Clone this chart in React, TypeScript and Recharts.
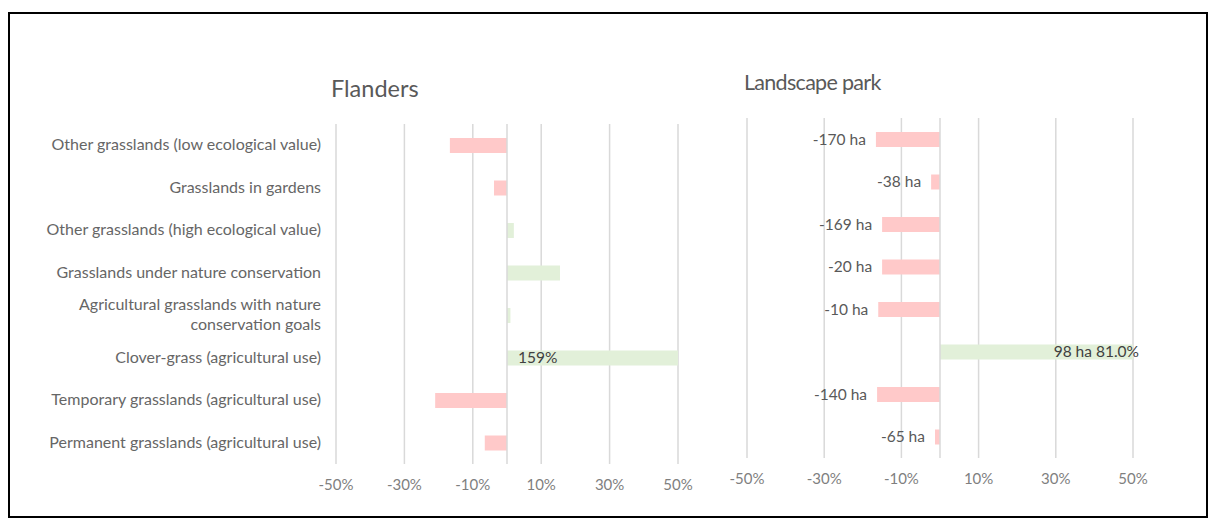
import React from "react";
import {
  Bar,
  BarChart,
  CartesianGrid,
  Cell,
  LabelList,
  ReferenceLine,
  XAxis,
  YAxis,
} from "recharts";

const categories = [
  "Other grasslands (low ecological value)",
  "Grasslands in gardens",
  "Other grasslands (high ecological value)",
  "Grasslands under nature conservation",
  "Agricultural grasslands with nature conservation goals",
  "Clover-grass (agricultural use)",
  "Temporary grasslands (agricultural use)",
  "Permanent grasslands (agricultural use)",
];
const flandersPct = [-16.7, -3.8, 2, 15.5, 1, 159, -21, -6.5];
const flandersLabels = ["", "", "", "", "", "159%", "", ""];
const parkPct = [-16.6, -2.3, -15, -15, -16, 81, -16.3, -1.3];
const parkLabels = [
  "-170 ha",
  "-38 ha",
  "-169 ha",
  "-20 ha",
  "-10 ha",
  "98 ha 81.0%",
  "-140 ha",
  "-65 ha",
];
const xTicks = [-50, -30, -10, 10, 30, 50];

const flandersData = categories.map((name, i) => ({
  name,
  value: flandersPct[i],
  label: flandersLabels[i],
}));
const parkData = categories.map((name, i) => ({
  name,
  value: parkPct[i],
  label: parkLabels[i],
}));

const FONT = "Lato, 'Open Sans', sans-serif";
const GRID = "#d9d9d9";
const RED = "#ffc9c9";
const GREEN = "#e2f0d9";

const wrap = (s: string, max: number) => {
  const words = s.split(" ");
  const lines: string[] = [];
  let cur = "";
  words.forEach((w) => {
    const next = cur ? cur + " " + w : w;
    if (next.length > max && cur) {
      lines.push(cur);
      cur = w;
    } else cur = next;
  });
  if (cur) lines.push(cur);
  return lines;
};

const CategoryTick = (props: any) => {
  const { x, y, payload } = props;
  const lines = wrap(payload.value, 42);
  const start = -((lines.length - 1) * 20) / 2;
  return (
    <text
      x={x}
      y={y}
      textAnchor="end"
      fill="#666666"
      fontSize={16}
      fontFamily={FONT}
    >
      {lines.map((l, i) => (
        <tspan key={i} x={x} dy={i === 0 ? start + 5 : 20}>
          {l}
        </tspan>
      ))}
    </text>
  );
};

const fmtPct = (v: number) => `${v}%`;

// left chart sizes
const L_W = 690;
const L_H = 500;
// right chart sizes
const R_W = 510;
const R_H = 500;
const R_MARGIN = { top: 104, right: 77, bottom: 26, left: 47 };

const FlandersLabel = (props: any) => {
  const { x, y, width, height, value } = props;
  if (!value) return null;
  const left = Math.min(x, x + width);
  return (
    <text
      x={left + 11}
      y={y + height / 2 + 5}
      fill="#404040"
      fontSize={15.5}
      fontFamily={FONT}
    >
      {value}
    </text>
  );
};

const ParkLabel = (props: any) => {
  const { x, y, width, height, value, index } = props;
  const v = parkPct[index];
  const left = Math.min(x, x + width);
  const right = Math.min(Math.max(x, x + width), R_W - R_MARGIN.right);
  const cy = y + height / 2 + 5;
  if (v < 0) {
    return (
      <text
        x={left - 10}
        y={cy}
        textAnchor="end"
        fill="#595959"
        fontSize={15.5}
        fontFamily={FONT}
      >
        {value}
      </text>
    );
  }
  return (
    <text
      x={right + 6}
      y={cy}
      textAnchor="end"
      fill="#404040"
      fontSize={15.5}
      fontFamily={FONT}
    >
      {value}
    </text>
  );
};

const axisTick = { fill: "#7f7f7f", fontSize: 15, fontFamily: FONT };

export default function App() {
  return (
    <div
      style={{
        position: "relative",
        width: 1196,
        height: 502,
        border: "2px solid #000",
        marginTop: 4,
        background: "#fff",
        fontFamily: FONT,
      }}
    >
      <div
        style={{
          position: "absolute",
          left: 321,
          top: 61,
          fontSize: 23.5,
          lineHeight: "26px",
          color: "#595959",
        }}
      >
        Flanders
      </div>
      <div
        style={{
          position: "absolute",
          left: 734,
          top: 55,
          fontSize: 21.5,
          letterSpacing: -0.7,
          lineHeight: "26px",
          color: "#595959",
        }}
      >
        Landscape park
      </div>

      <div style={{ position: "absolute", left: 0, top: 0 }}>
        <BarChart
          width={L_W}
          height={L_H}
          data={flandersData}
          layout="vertical"
          margin={{ top: 110, right: 22, bottom: 20, left: 0 }}
        >
          <CartesianGrid
            horizontal={false}
            stroke={GRID}
            strokeWidth={1.5}
          />
          <XAxis
            type="number"
            domain={[-50, 50]}
            ticks={xTicks}
            allowDataOverflow
            tickFormatter={fmtPct}
            axisLine={false}
            tickLine={false}
            tick={axisTick}
            tickMargin={9}
            height={30}
          />
          <YAxis
            type="category"
            dataKey="name"
            width={326}
            axisLine={false}
            tickLine={false}
            tickMargin={9}
            tick={<CategoryTick />}
            interval={0}
          />
          <ReferenceLine x={0} stroke={GRID} strokeWidth={1.5} />
          <Bar dataKey="value" barSize={15} isAnimationActive={false}>
            {flandersData.map((d, i) => (
              <Cell key={i} fill={d.value < 0 ? RED : GREEN} />
            ))}
            <LabelList dataKey="label" content={<FlandersLabel />} />
          </Bar>
        </BarChart>
      </div>

      <div style={{ position: "absolute", left: 690, top: 0 }}>
        <BarChart
          width={R_W}
          height={R_H}
          data={parkData}
          layout="vertical"
          margin={R_MARGIN}
        >
          <CartesianGrid
            horizontal={false}
            stroke={GRID}
            strokeWidth={1.5}
          />
          <XAxis
            type="number"
            domain={[-50, 50]}
            ticks={xTicks}
            allowDataOverflow
            tickFormatter={fmtPct}
            axisLine={false}
            tickLine={false}
            tick={axisTick}
            tickMargin={9}
            height={30}
          />
          <YAxis type="category" dataKey="name" hide />
          <ReferenceLine x={0} stroke={GRID} strokeWidth={1.5} />
          <Bar dataKey="value" barSize={15} isAnimationActive={false}>
            {parkData.map((d, i) => (
              <Cell key={i} fill={d.value < 0 ? RED : GREEN} />
            ))}
            <LabelList dataKey="label" content={<ParkLabel />} />
          </Bar>
        </BarChart>
      </div>
    </div>
  );
}
